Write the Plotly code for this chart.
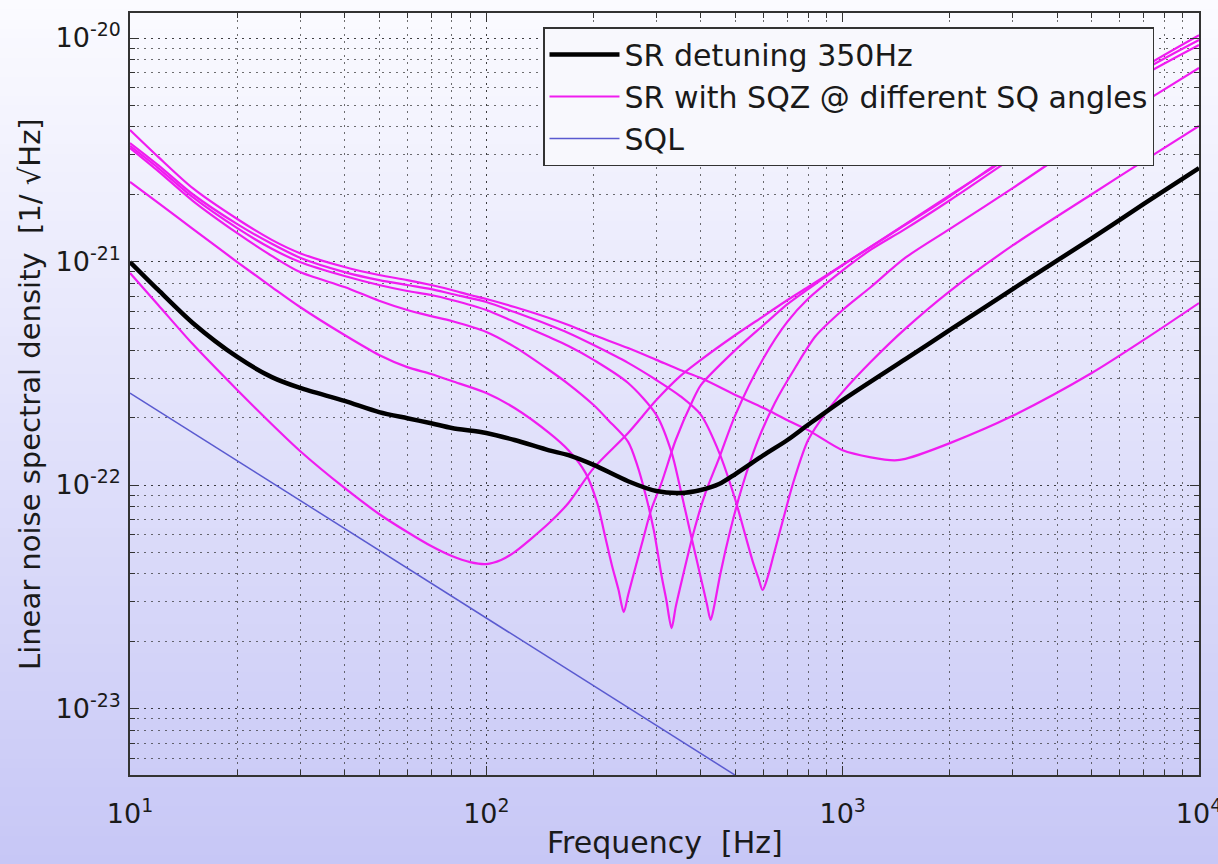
import plotly.graph_objects as go

# ---------------- data ----------------
# SR detuning 350 Hz (black)
freq_sr = [10, 12, 15, 20, 25, 30, 40, 50, 60, 70, 80, 100, 120, 150, 170, 200, 250, 300, 350, 400,
           450, 500, 600, 700, 800, 1000, 1500, 2000, 3000, 5000, 7000, 10000]
asd_sr = [9.95e-22, 7.46e-22, 5.31e-22, 3.74e-22, 3.04e-22, 2.72e-22, 2.38e-22, 2.12e-22, 1.99e-22, 1.89e-22,
          1.80e-22, 1.71e-22, 1.59e-22, 1.43e-22, 1.36e-22, 1.23e-22, 1.04e-22, 9.40e-23, 9.21e-23, 9.50e-23,
          1.01e-22, 1.12e-22, 1.36e-22, 1.59e-22, 1.86e-22, 2.40e-22, 3.66e-22, 4.94e-22, 7.53e-22, 1.27e-21,
          1.81e-21, 2.62e-21]

# SR with squeezing at different squeeze angles (magenta)
freq_sqz_a = [10, 12, 15, 20, 25, 30, 40, 50, 60, 70, 80, 90, 100, 110, 120, 150, 170, 200, 250, 300, 350,
              400, 500, 600, 700, 800, 1000, 1500, 2000, 3000, 5000, 7000, 10000]
asd_sqz_a = [8.88e-22, 6.39e-22, 4.27e-22, 2.66e-22, 1.87e-22, 1.42e-22, 9.70e-23, 7.42e-23, 6.16e-23, 5.33e-23,
             4.81e-23, 4.52e-23, 4.43e-23, 4.62e-23, 5.01e-23, 6.76e-23, 8.31e-23, 1.19e-22, 1.71e-22, 2.40e-22,
             3.07e-22, 3.63e-22, 4.69e-22, 5.70e-22, 6.73e-22, 7.69e-22, 9.65e-22, 1.47e-21, 1.98e-21, 3.00e-21,
             5.07e-21, 7.19e-21, 9.80e-21]

freq_sqz_b = [10, 12, 15, 20, 25, 30, 40, 50, 60, 70, 80, 100, 120, 150, 170, 190, 205, 215, 225, 235, 243,
              250, 260, 275, 290, 310, 340, 380, 400, 500, 600, 700, 800, 1000, 1500, 2000, 3000, 5000, 7000, 10000]
asd_sqz_b = [2.27e-21, 1.83e-21, 1.40e-21, 9.95e-22, 7.69e-22, 6.26e-22, 4.69e-22, 3.82e-22, 3.37e-22, 3.14e-22,
             2.92e-22, 2.58e-22, 2.21e-22, 1.71e-22, 1.43e-22, 1.13e-22, 8.25e-23, 5.98e-23, 4.39e-23, 3.39e-23,
             2.70e-23, 3.22e-23, 4.08e-23, 5.68e-23, 7.73e-23, 1.02e-22, 1.59e-22, 2.40e-22, 2.80e-22, 4.02e-22,
             5.20e-22, 6.45e-22, 7.53e-22, 9.65e-22, 1.46e-21, 1.96e-21, 3.06e-21, 5.23e-21, 7.42e-21, 1.03e-20]

freq_sqz_c = [10, 12, 15, 20, 25, 30, 40, 50, 60, 70, 80, 100, 120, 150, 170, 200, 220, 250, 265, 280, 295,
              310, 320, 331, 340, 355, 380, 410, 450, 500, 600, 700, 800, 1000, 1200, 1500, 2000, 3000, 5000, 7000,
              10000]
asd_sqz_c = [3.22e-21, 2.54e-21, 1.87e-21, 1.34e-21, 1.06e-21, 8.97e-22, 7.69e-22, 6.68e-22, 6.07e-22, 5.70e-22,
             5.42e-22, 4.84e-22, 4.15e-22, 3.27e-22, 2.83e-22, 2.28e-22, 1.95e-22, 1.56e-22, 1.23e-22, 9.02e-23,
             6.29e-23, 3.96e-23, 3.06e-23, 2.29e-23, 2.85e-23, 3.84e-23, 5.98e-23, 9.02e-23, 1.32e-22, 2.06e-22,
             3.70e-22, 5.38e-22, 6.81e-22, 9.13e-22, 1.13e-21, 1.40e-21, 1.88e-21, 2.91e-21, 4.91e-21, 6.83e-21,
             9.30e-21]

freq_sqz_d = [10, 12, 15, 20, 25, 30, 40, 50, 60, 70, 80, 100, 120, 150, 170, 200, 250, 300, 331, 350, 375,
              400, 416, 426, 437, 453, 484, 524, 576, 645, 735, 840, 1000, 1200, 1500, 2000, 3000, 5000, 7000, 10000]
asd_sqz_d = [3.29e-21, 2.62e-21, 1.94e-21, 1.41e-21, 1.14e-21, 9.95e-22, 8.61e-22, 7.85e-22, 7.38e-22, 7.08e-22,
             6.73e-22, 6.07e-22, 5.36e-22, 4.59e-22, 4.19e-22, 3.63e-22, 2.86e-22, 2.06e-22, 1.40e-22, 9.70e-23,
             5.98e-23, 3.84e-23, 2.93e-23, 2.49e-23, 2.93e-23, 3.96e-23, 6.29e-23, 1.00e-22, 1.56e-22, 2.33e-22,
             3.34e-22, 4.64e-22, 6.07e-22, 7.69e-22, 1.04e-21, 1.40e-21, 2.13e-21, 3.68e-21, 5.17e-21, 7.34e-21]

freq_sqz_e = [10, 12, 15, 20, 25, 30, 40, 50, 60, 70, 80, 100, 120, 150, 170, 200, 250, 300, 350, 400, 450,
              500, 530, 560, 580, 596, 615, 640, 680, 730, 800, 900, 1000, 1200, 1500, 2000, 3000, 5000, 7000, 10000]
asd_sqz_e = [3.39e-21, 2.70e-21, 2.00e-21, 1.47e-21, 1.20e-21, 1.04e-21, 8.97e-22, 8.26e-22, 7.85e-22, 7.53e-22,
             7.16e-22, 6.59e-22, 5.94e-22, 5.20e-22, 4.79e-22, 4.23e-22, 3.52e-22, 2.95e-22, 2.50e-22, 2.06e-22,
             1.40e-22, 8.57e-23, 6.16e-23, 4.52e-23, 3.84e-23, 3.39e-23, 3.84e-23, 4.86e-23, 6.97e-23, 1.05e-22,
             1.59e-22, 2.12e-22, 2.61e-22, 3.56e-22, 5.01e-22, 7.38e-22, 1.18e-21, 2.00e-21, 2.82e-21, 4.04e-21]

freq_sqz_f = [10, 12, 15, 20, 25, 30, 40, 50, 60, 70, 80, 90, 100, 120, 150, 170, 200, 250, 300, 350, 400,
              500, 600, 700, 800, 1000, 1200, 1400, 1500, 2000, 3000, 5000, 7000, 10000]
asd_sqz_f = [3.88e-21, 2.94e-21, 2.13e-21, 1.55e-21, 1.25e-21, 1.09e-21, 9.45e-22, 8.70e-22, 8.26e-22, 7.85e-22,
             7.46e-22, 7.08e-22, 6.80e-22, 6.26e-22, 5.59e-22, 5.20e-22, 4.69e-22, 4.10e-22, 3.63e-22, 3.27e-22,
             3.01e-22, 2.53e-22, 2.21e-22, 1.95e-22, 1.76e-22, 1.43e-22, 1.33e-22, 1.29e-22, 1.31e-22, 1.54e-22,
             2.04e-22, 3.17e-22, 4.46e-22, 6.52e-22]

# Standard quantum limit (blue)
freq_sql = [10, 100, 1000]
asd_sql = [2.58e-22, 2.55e-23, 2.50e-24]

# tick labels
x_tick_vals = [10, 100, 1000, 10000]
x_tick_text = ["10<sup>1</sup>", "10<sup>2</sup>", "10<sup>3</sup>", "10<sup>4</sup>"]
y_tick_vals = [1e-23, 1e-22, 1e-21, 1e-20]
y_tick_text = ["10<sup>-23</sup>", "10<sup>-22</sup>", "10<sup>-21</sup>", "10<sup>-20</sup>"]

legend_names = ["SR detuning 350Hz", "SR with SQZ @ different SQ angles", "SQL"]

# ---------------- figure ----------------
FONT = "DejaVu Sans"
W, H = 1218, 864
ML, MR, MT, MB = 130, 19, 13, 89
PW, PH = W - ML - MR, H - MT - MB

fig = go.Figure()

sqz_sets = [(freq_sqz_a, asd_sqz_a), (freq_sqz_b, asd_sqz_b), (freq_sqz_c, asd_sqz_c),
            (freq_sqz_d, asd_sqz_d), (freq_sqz_e, asd_sqz_e), (freq_sqz_f, asd_sqz_f)]
for i, (fx, fy) in enumerate(sqz_sets):
    fig.add_trace(go.Scatter(
        x=fx, y=fy, mode="lines", name=legend_names[1],
        line=dict(color="#f01cf0", width=2.2, shape="spline", smoothing=0.8),
        legendgroup="sqz", showlegend=(i == 0), legendrank=2,
    ))

fig.add_trace(go.Scatter(
    x=freq_sql, y=asd_sql, mode="lines", name=legend_names[2],
    line=dict(color="#5a5ad0", width=1.5), legendrank=3,
))

fig.add_trace(go.Scatter(
    x=freq_sr, y=asd_sr, mode="lines", name=legend_names[0],
    line=dict(color="#000000", width=4.5, shape="spline", smoothing=0.8), legendrank=1,
))

# background gradient (white at top to lavender at bottom)
shapes = []
n_bands = 90
top_rgb = (251, 251, 255)
bot_rgb = (199, 199, 246)
for i in range(n_bands):
    t = (i + 0.5) / n_bands
    r = round(top_rgb[0] + (bot_rgb[0] - top_rgb[0]) * t)
    g = round(top_rgb[1] + (bot_rgb[1] - top_rgb[1]) * t)
    b = round(top_rgb[2] + (bot_rgb[2] - top_rgb[2]) * t)
    py0 = H * i / n_bands
    py1 = H * (i + 1) / n_bands + 1
    shapes.append(dict(
        type="rect", xref="paper", yref="paper", layer="below",
        x0=-0.3, x1=1.3,
        y0=(H - MB - py0) / PH, y1=(H - MB - py1) / PH,
        fillcolor=f"rgb({r},{g},{b})", line=dict(width=0),
    ))

minor_x = [m * 10 ** k for k in range(1, 4) for m in range(2, 10)]
minor_y = [m * 10.0 ** k for k in range(-24, -19) for m in range(2, 10)]

GRID_DASH = "2px,5px"
axis_common = dict(
    type="log",
    tickmode="array",
    ticks="inside", ticklen=9, tickwidth=1.2, tickcolor="#333333",
    showline=True, linecolor="#333333", linewidth=1.6, mirror="allticks",
    showgrid=True, gridcolor="rgba(30,30,30,0.85)", griddash=GRID_DASH, gridwidth=1.2,
    zeroline=False,
    tickfont=dict(family=FONT, size=27, color="#1a1a1a"),
)
minor_common = dict(tickmode="array", ticks="inside", ticklen=5, tickcolor="#333333",
                    showgrid=True, gridcolor="rgba(50,50,50,0.7)", griddash=GRID_DASH, gridwidth=1)

fig.update_layout(
    width=W, height=H,
    margin=dict(l=ML, r=MR, t=MT, b=MB, autoexpand=False),
    paper_bgcolor="rgb(251,251,255)",
    plot_bgcolor="rgba(0,0,0,0)",
    shapes=shapes,
    font=dict(family=FONT, color="#1a1a1a"),
    xaxis=dict(
        axis_common, range=[1, 4], tickvals=x_tick_vals, ticktext=x_tick_text,
        ticklabelstandoff=14, ticklabeloverflow="allow",
        minor=dict(minor_common, tickvals=minor_x),
    ),
    yaxis=dict(
        axis_common, range=[-23.2975, -19.888], tickvals=y_tick_vals, ticktext=y_tick_text,
        ticklabelstandoff=2, ticklabeloverflow="allow",
        minor=dict(minor_common, tickvals=minor_y),
    ),
    legend=dict(
        x=(543 - ML) / PW, y=(H - MB - 27) / PH, xanchor="left", yanchor="top",
        bgcolor="rgb(248,248,253)", bordercolor="#333333", borderwidth=1.5,
        font=dict(family=FONT, size=30, color="#1a1a1a"),
        itemwidth=70, tracegroupgap=0,
    ),
    annotations=[
        dict(text="Frequency  [Hz]", xref="paper", yref="paper",
             x=0.5, y=(H - MB - 843) / PH, xanchor="center", yanchor="middle",
             showarrow=False, font=dict(family=FONT, size=30, color="#1a1a1a")),
        dict(text="Linear noise spectral density  [1/ \u221aHz]", xref="paper", yref="paper",
             x=(30 - ML) / PW, y=0.5, xanchor="center", yanchor="middle", textangle=-90,
             showarrow=False, font=dict(family=FONT, size=29, color="#1a1a1a")),
    ],
    showlegend=True,
)

fig.write_html("out.html")
